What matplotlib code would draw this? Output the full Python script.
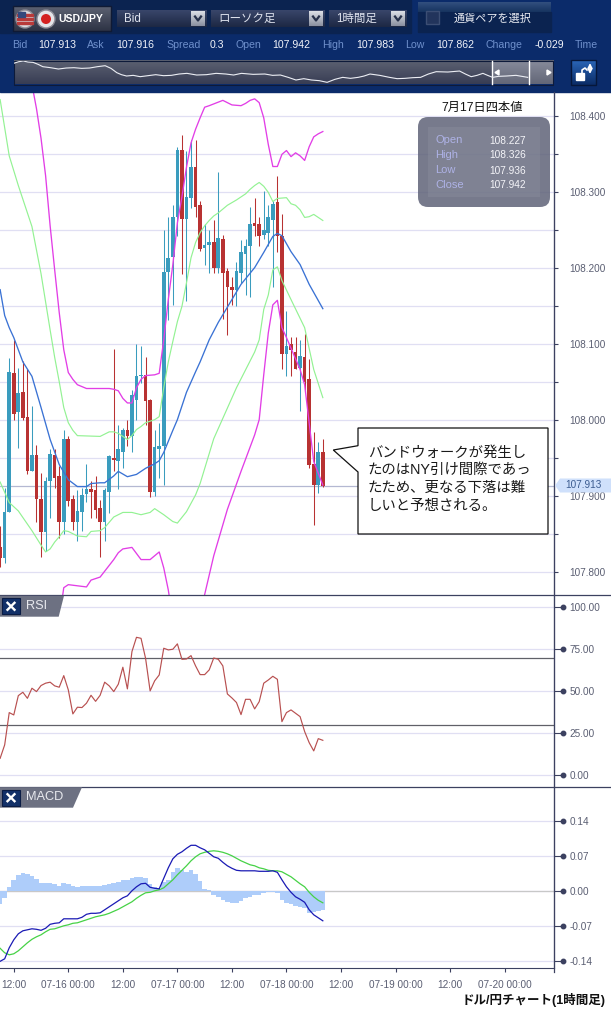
import numpy as np
import matplotlib
matplotlib.use('Agg')
import matplotlib.pyplot as plt
from matplotlib.patches import Rectangle, Polygon, FancyBboxPatch, Circle

plt.rcParams['font.family'] = ['Liberation Sans', 'Noto Sans CJK JP']

W, H = 611, 1010

# hourly candles, first one is 07-15 09:00
opens = [107.833, 107.818, 107.879, 108.061, 108.010, 108.036, 108.004, 107.933, 107.953, 107.896, 107.852, 107.919,
         107.954, 107.926, 107.866, 107.975, 107.896, 107.866, 107.878, 107.902, 107.909, 107.907, 107.884, 107.865,
         107.905, 107.950, 107.946, 107.958, 107.986, 107.978, 108.026, 108.057, 108.059, 108.026, 107.905, 107.962,
         107.965, 108.194, 108.214, 108.266, 108.355, 108.264, 108.292, 108.333, 108.282, 108.226, 108.230, 108.234,
         108.199, 108.238, 108.195, 108.174, 108.170, 108.193, 108.218, 108.228, 108.259, 108.257, 108.243, 108.246,
         108.263, 108.286, 108.242, 108.087, 108.099, 108.089, 108.068, 108.083, 108.053, 107.942, 107.914, 107.958]
highs = [107.860, 107.910, 108.081, 108.105, 108.068, 108.077, 108.066, 108.018, 107.967, 107.930, 107.925, 107.961,
         107.961, 107.939, 107.987, 107.978, 107.901, 107.908, 107.910, 107.942, 107.919, 107.926, 107.895, 107.910,
         107.953, 108.093, 107.993, 107.989, 107.999, 108.039, 108.099, 108.097, 108.083, 108.027, 107.986, 107.996,
         108.250, 108.267, 108.282, 108.358, 108.375, 108.353, 108.368, 108.368, 108.288, 108.257, 108.250, 108.263,
         108.326, 108.243, 108.199, 108.188, 108.207, 108.236, 108.238, 108.280, 108.291, 108.267, 108.301, 108.282,
         108.287, 108.320, 108.271, 108.143, 108.109, 108.109, 108.105, 108.113, 108.080, 107.984, 107.971, 107.974]
lows = [107.806, 107.811, 107.879, 108.000, 107.963, 108.000, 107.928, 107.932, 107.866, 107.820, 107.827, 107.871,
        107.910, 107.844, 107.849, 107.886, 107.855, 107.840, 107.853, 107.892, 107.871, 107.871, 107.820, 107.841,
        107.877, 107.932, 107.909, 107.936, 107.965, 107.958, 108.000, 108.048, 107.993, 107.898, 107.900, 107.923,
        107.914, 108.131, 108.151, 108.241, 108.192, 108.156, 108.279, 108.266, 108.222, 108.204, 108.193, 108.193,
        108.193, 108.132, 108.112, 108.151, 108.150, 108.180, 108.164, 108.162, 108.242, 108.228, 108.238, 108.228,
        108.174, 108.220, 108.066, 108.058, 108.058, 108.066, 108.012, 108.037, 107.937, 107.862, 107.904, 107.912]
closes = [107.818, 107.879, 108.063, 108.008, 108.035, 108.002, 107.933, 107.953, 107.896, 107.852, 107.919, 107.955,
          107.923, 107.865, 107.974, 107.893, 107.866, 107.880, 107.901, 107.909, 107.905, 107.881, 107.865, 107.908,
          107.952, 107.947, 107.961, 107.987, 107.979, 108.033, 108.057, 108.059, 108.025, 107.905, 107.964, 107.965,
          108.194, 108.213, 108.267, 108.355, 108.264, 108.293, 108.333, 108.280, 108.224, 108.230, 108.234, 108.200,
          108.239, 108.193, 108.174, 108.170, 108.196, 108.221, 108.229, 108.258, 108.255, 108.241, 108.249, 108.266,
          108.284, 108.242, 108.087, 108.097, 108.091, 108.067, 108.084, 108.050, 107.941, 107.914, 107.958, 107.913]

# bollinger bands, read at the candles where the line bends
up2_i = [7, 8, 9, 10, 11, 12, 13, 14, 15, 16, 17, 19, 24, 25, 26, 27, 28, 29, 30, 31, 32, 34, 35, 36, 37, 38, 39, 40,
         41, 42, 43, 44, 45, 46, 49, 50, 51, 53, 54, 55, 56, 57, 58, 59, 60, 61, 62, 63, 64, 65, 66, 67, 68, 69, 70, 71]
up2_p = [108.441, 108.409, 108.370, 108.321, 108.255, 108.197, 108.141, 108.092, 108.062, 108.053, 108.046, 108.041,
         108.041, 108.040, 108.038, 108.028, 108.022, 108.022, 108.042, 108.053, 108.058, 108.059, 108.061, 108.105,
         108.158, 108.204, 108.259, 108.293, 108.332, 108.364, 108.382, 108.397, 108.411, 108.413, 108.420, 108.417,
         108.414, 108.413, 108.416, 108.420, 108.422, 108.417, 108.397, 108.362, 108.333, 108.333, 108.349, 108.354,
         108.346, 108.351, 108.347, 108.341, 108.359, 108.372, 108.376, 108.379]
up1_i = [0, 2, 4, 7, 9, 11, 12, 13, 14, 15, 16, 17, 22, 24, 25, 26, 27, 28, 29, 30, 31, 32, 34, 35, 36, 37, 38, 39, 40,
         41, 42, 43, 44, 45, 46, 47, 48, 50, 52, 54, 55, 56, 57, 58, 59, 60, 61, 63, 64, 65, 66, 67, 68, 69, 71]
up1_p = [108.421, 108.347, 108.308, 108.254, 108.192, 108.118, 108.082, 108.050, 108.016, 107.996, 107.986, 107.979,
         107.978, 107.984, 107.984, 107.982, 107.978, 107.974, 107.979, 107.987, 107.991, 107.996, 108.000, 108.004,
         108.042, 108.076, 108.103, 108.129, 108.149, 108.180, 108.213, 108.233, 108.246, 108.255, 108.262, 108.268,
         108.272, 108.282, 108.289, 108.297, 108.303, 108.308, 108.312, 108.307, 108.299, 108.287, 108.291, 108.292,
         108.284, 108.282, 108.276, 108.266, 108.267, 108.270, 108.262]
mid_i = [0, 1, 2, 3, 5, 7, 9, 11, 13, 15, 17, 19, 20, 22, 23, 25, 26, 28, 30, 31, 32, 34, 35, 36, 38, 39, 41, 43, 44,
         46, 48, 49, 52, 53, 56, 58, 60, 61, 62, 64, 66, 68, 71]
mid_p = [108.171, 108.137, 108.121, 108.108, 108.076, 108.057, 108.016, 107.974, 107.941, 107.921, 107.912, 107.912,
         107.916, 107.917, 107.917, 107.926, 107.932, 107.925, 107.928, 107.932, 107.936, 107.942, 107.946, 107.957,
         107.986, 108.000, 108.036, 108.063, 108.076, 108.105, 108.128, 108.138, 108.168, 108.178, 108.200, 108.220,
         108.241, 108.245, 108.242, 108.221, 108.204, 108.178, 108.146]
lo1_i = [0, 2, 4, 7, 9, 10, 11, 12, 13, 14, 15, 17, 19, 20, 22, 23, 25, 27, 29, 31, 33, 34, 35, 36, 38, 39, 41, 43, 44,
         47, 52, 56, 57, 58, 59, 60, 61, 62, 64, 67, 69, 71]
lo1_p = [107.918, 107.891, 107.880, 107.854, 107.835, 107.826, 107.830, 107.839, 107.846, 107.854, 107.853, 107.847,
         107.846, 107.853, 107.854, 107.858, 107.872, 107.878, 107.878, 107.875, 107.878, 107.883, 107.879, 107.875,
         107.866, 107.864, 107.879, 107.901, 107.916, 107.975, 108.042, 108.089, 108.105, 108.145, 108.164, 108.197,
         108.201, 108.183, 108.158, 108.121, 108.066, 108.029]
lo2_i = [13, 14, 15, 19, 20, 22, 25, 26, 27, 29, 31, 33, 35, 36, 37, 38, 39, 40, 41, 42, 43, 44, 45, 47, 50, 53, 56,
         57, 58, 59, 60, 61, 62, 63, 66, 67, 69, 71]
lo2_p = [107.737, 107.779, 107.783, 107.780, 107.789, 107.793, 107.816, 107.825, 107.830, 107.832, 107.816, 107.816,
         107.826, 107.805, 107.776, 107.737, 107.697, 107.684, 107.691, 107.704, 107.724, 107.747, 107.770, 107.821,
         107.882, 107.932, 107.980, 108.000, 108.059, 108.114, 108.151, 108.157, 108.121, 108.108, 108.066, 108.046,
         107.945, 107.914]

rsi = [10.1, 18.1, 37.3, 35.9, 47.4, 49.4, 45.8, 51.8, 49.8, 53.4, 54.8, 55.4, 53.2, 52.4, 59.3, 50.8, 36.5, 40.5,
       40.3, 42.9, 47.6, 44.0, 47.6, 55.4, 53.2, 49.8, 54.2, 64.3, 51.4, 73.6, 82.1, 81.5, 69.6, 50.2, 56.2, 59.7,
       75.6, 74.6, 75.0, 78.2, 69.0, 69.2, 71.2, 65.1, 59.9, 59.9, 62.7, 69.8, 69.0, 65.1, 48.4, 46.0, 43.3, 36.1,
       45.2, 45.2, 39.5, 43.8, 54.8, 56.7, 58.9, 57.1, 31.9, 37.3, 38.9, 36.9, 34.9, 26.0, 19.4, 14.5, 21.8, 20.8]
macd = [-.140, -.135, -.113, -.097, -.085, -.079, -.077, -.075, -.076, -.078, -.074, -.066, -.064, -.063, -.055, -.055,
        -.055, -.055, -.052, -.046, -.044, -.044, -.043, -.037, -.031, -.025, -.019, -.013, -.009, .001, .009, .015,
        .016, .008, .006, .005, .026, .047, .065, .074, .079, .086, .092, .092, .087, .083, .076, .069, .066, .058,
        .051, .046, .042, .041, .041, .041, .041, .040, .040, .040, .041, .038, .023, .009, -.002, -.011, -.016, -.022,
        -.037, -.047, -.053, -.059]
signal = [-.114, -.123, -.127, -.125, -.119, -.111, -.103, -.096, -.091, -.087, -.081, -.076, -.075, -.072, -.069, -.067,
          -.064, -.063, -.060, -.057, -.054, -.051, -.049, -.047, -.044, -.040, -.036, -.031, -.026, -.021, -.014, -.008,
          -.003, -.002, .001, .003, .007, .015, .023, .033, .042, .051, .061, .069, .075, .078, .080, .081, .080, .078,
          .075, .071, .066, .061, .057, .053, .051, .047, .045, .042, .041, .041, .039, .034, .029, .022, .015, .009,
          -.002, -.011, -.018, -.023]
hist = [-.025, -.013, .009, .023, .033, .037, .034, .031, .025, .017, .016, .016, .015, .010, .017, .014, .011, .009,
        .010, .010, .011, .010, .010, .013, .015, .016, .019, .022, .023, .027, .028, .029, .026, .014, .009, .005,
        .019, .023, .038, .047, .043, .039, .043, .034, .021, .005, .002, -.007, -.012, -.017, -.021, -.023, -.023,
        -.019, -.014, -.011, -.008, -.007, -.004, -.002, -.001, -.004, -.018, -.023, -.026, -.030, -.031, -.033,
        -.043, -.041, -.039, -.037]

time_ticks = [-12, 0, 12, 24, 36, 48, 60, 72, 84, 96]
time_labels = ['12:00', '07-16 00:00', '12:00', '07-17 00:00', '12:00', '07-18 00:00', '12:00', '07-19 00:00', '12:00',
               '07-20 00:00']
price_ticks = [107.8, 107.9, 108.0, 108.1, 108.2, 108.3, 108.4]
rsi_ticks = [0, 25, 50, 75, 100]
macd_ticks = [-0.14, -0.07, 0.0, 0.07, 0.14]
last_price = 107.913

# overview strip at the top, unscaled levels
nav_pos = [35, 48, 60, 72, 85, 98, 110, 130, 150, 170, 190, 210, 230, 250, 270, 285, 300, 312, 325, 342, 360, 380, 400,
           420, 440, 460, 480, 505, 530, 555, 580, 600, 620, 650, 680, 700, 720, 740, 760, 780, 800, 820, 840, 860,
           880, 900, 920, 935, 950, 975, 1000, 1020, 1040, 1060, 1080, 1100, 1120, 1150, 1180, 1195, 1210, 1225, 1240,
           1252, 1265, 1280, 1300, 1325, 1355]
nav_level = [190, 185, 183, 186, 187, 193, 200, 203, 207, 204, 203, 205, 204, 200, 197, 205, 218, 224, 228, 226, 230,
             227, 224, 227, 226, 222, 220, 225, 224, 220, 222, 225, 220, 223, 222, 226, 225, 232, 240, 236, 240, 242,
             247, 238, 232, 235, 232, 228, 222, 226, 232, 236, 235, 233, 232, 222, 215, 216, 213, 222, 230, 226, 220,
             226, 232, 229, 228, 226, 232]

BLUE = '#3a9cbe'
RED = '#b83232'
AXIS = '#3c4160'
TXT = '#5a5e72'
GRID = '#e0dff3'


def px_axes(fig, x0, y0, x1, y1):
    # axes from pixel box, y measured from the top
    return fig.add_axes([x0 / W, 1 - y1 / H, (x1 - x0) / W, (y1 - y0) / H])


def style_panel(ax, ylim, ticks, labels):
    ax.set_xlim(-15.03, 106.93)
    ax.set_ylim(*ylim)
    for s in ['top', 'left', 'bottom']:
        ax.spines[s].set_visible(False)
    ax.spines['right'].set_color(AXIS)
    ax.yaxis.tick_right()
    ax.set_yticks(ticks)
    ax.set_yticklabels(labels)
    ax.set_xticks([])
    ax.grid(axis='y', color=GRID, lw=0.9)
    ax.set_axisbelow(True)


def dots(ax, ticks):
    # round end on the indicator ticks
    ax.plot([1.0148] * len(ticks), ticks, 'o', ms=3.2, color=AXIS, clip_on=False, zorder=5,
            transform=ax.get_yaxis_transform())


def grad(ax, x0, y0, x1, y1, c1, c2):
    rgb = np.linspace(matplotlib.colors.to_rgb(c1), matplotlib.colors.to_rgb(c2), 32).reshape(32, 1, 3)
    ax.imshow(rgb, extent=[x0, x1, y1, y0], aspect='auto', zorder=1)


fig = plt.figure(figsize=(W / 100, H / 100), dpi=100, facecolor='white')
hours = np.arange(len(opens)) - 15

# --- price panel
ax = px_axes(fig, 0, 92, 554.3, 595.3)
price_lim = (107.769, 108.431)
style_panel(ax, price_lim, price_ticks, ['%.3f' % v for v in price_ticks])
ax.set_yticks(np.arange(107.8, 108.41, 0.05), minor=True)
ax.grid(axis='y', which='minor', color=GRID, lw=0.9)
ax.tick_params(axis='y', which='major', length=3, width=0.8, color=AXIS, labelsize=7.2, labelcolor=TXT, pad=8)
ax.tick_params(axis='y', which='minor', length=3, width=0.8, color=AXIS)
ax.axhline(last_price, color='#b4b8d2', lw=0.9, zorder=1)

for h, o, hi, lo, c in zip(hours, opens, highs, lows, closes):
    col = BLUE if c >= o else RED
    ax.vlines(h, lo, hi, color=col, lw=0.75, zorder=2)
    ax.bar(h, abs(c - o), bottom=min(o, c), width=0.8, color=col, lw=0, zorder=2)

ax.plot(np.array(up1_i) - 15, up1_p, color='#93f293', lw=0.85, zorder=3)
ax.plot(np.array(lo1_i) - 15, lo1_p, color='#93f293', lw=0.85, zorder=3)
ax.plot(np.array(mid_i) - 15, mid_p, color='#3a72d4', lw=0.95, zorder=3)
ax.plot(np.array(up2_i) - 15, up2_p, color='#e23ee6', lw=0.95, zorder=4)
ax.plot(np.array(lo2_i) - 15, lo2_p, color='#e23ee6', lw=0.95, zorder=4)

# --- RSI panel
ax2 = px_axes(fig, 0, 595.3, 554.3, 786.7)
style_panel(ax2, (-6.8, 107.1), rsi_ticks, ['%.2f' % v for v in rsi_ticks])
ax2.tick_params(axis='y', length=5.5, width=0.8, color=AXIS, labelsize=7.2, labelcolor=TXT, pad=5.5)
ax2.axhline(70, color='#606068', lw=0.9, zorder=1)
ax2.axhline(30, color='#606068', lw=0.9, zorder=1)
ax2.plot(hours, rsi, color='#b85050', lw=0.85, zorder=3)
dots(ax2, rsi_ticks)

# --- MACD panel
ax3 = px_axes(fig, 0, 786.7, 554.3, 968)
style_panel(ax3, (-0.1534, 0.2092), macd_ticks, ['%.2f' % v for v in macd_ticks])
ax3.tick_params(axis='y', length=5.5, width=0.8, color=AXIS, labelsize=7.2, labelcolor=TXT, pad=5.5)
ax3.axhline(0, color='#c8c8c8', lw=0.9, zorder=1)
ax3.bar(hours, hist, width=1.0, color='#aecdfa', lw=0, zorder=2)
ax3.plot(hours, signal, color='#46d246', lw=0.9, zorder=3)
ax3.plot(hours, macd, color='#1a1ab4', lw=0.9, zorder=4)
dots(ax3, macd_ticks)
ax3.spines['bottom'].set_visible(True)
ax3.spines['bottom'].set_color(AXIS)
ax3.set_xticks(time_ticks)
ax3.set_xticklabels(time_labels)
ax3.tick_params(axis='x', length=3, width=0.8, color=AXIS, labelsize=7.2, labelcolor=TXT, pad=5.5)

# --- page furniture drawn in pixel coordinates on top
top = px_axes(fig, 0, 0, W, H)
top.set_xlim(0, W)
top.set_ylim(H, 0)
top.set_autoscale_on(False)
top.axis('off')
top.patch.set_alpha(0)

top.add_patch(Rectangle((0, 0), W, 92, color='#0b2b6a', zorder=0))
top.add_patch(Rectangle((0, 0), 411, 33, color='#0b2350', zorder=0))
grad(top, 418, 2, 551, 12, '#33507f', '#16335f')
top.add_patch(Rectangle((418, 12), 133, 20, color='#0b2350', zorder=0))

# currency button
grad(top, 13, 6, 111, 31, '#5c6272', '#2e3345')
top.add_patch(Rectangle((13, 6), 98, 25, fill=False, ec='#101a34', lw=1, zorder=2))
top.add_patch(Circle((25, 19), 9, fc='#d9d9dd', ec='#8a8a95', lw=1, zorder=3))
for yy in [14, 18, 22]:
    top.add_patch(Rectangle((17, yy), 16, 2, color='#b83a3a', zorder=4))
top.add_patch(Rectangle((18, 12), 7, 5, color='#33487c', zorder=4))
top.add_patch(Circle((46, 19), 9, fc='#e4e4e8', ec='#8a8a95', lw=1, zorder=3))
top.add_patch(Circle((46, 19), 5, fc='#d42020', lw=0, zorder=4))
top.text(58, 19, 'USD/JPY', color='white', fontsize=7.6, fontweight='bold', va='center', zorder=5)

# dropdowns
for x0, x1, lab in [(117, 207, 'Bid'), (211, 325, 'ローソク足'), (329, 407, '1時間足')]:
    grad(top, x0, 10, x1, 27, '#39466a', '#1d2844')
    grad(top, x1 - 16, 11, x1 - 2, 26, '#dcdfe6', '#8a90a0')
    top.plot([x1 - 12, x1 - 9, x1 - 6], [16.5, 20.5, 16.5], color='#26304a', lw=1.6, zorder=3)
    top.text(x0 + 7, 19, lab, color='#dfe3ee', fontsize=8.3, va='center', zorder=3)

top.add_patch(Rectangle((426, 11), 13, 13, fc='#22345c', ec='#3c4e74', lw=1, zorder=2))
top.text(454, 18.5, '通貨ペアを選択', color='#e8ebf2', fontsize=8, va='center', zorder=3)

# quote row
quote_row = [(12, 'Bid', 0), (38, '107.913', 1), (87, 'Ask', 0), (116, '107.916', 1), (166, 'Spread', 0),
             (210, '0.3', 1), (236, 'Open', 0), (272, '107.942', 1), (322, 'High', 0), (356, '107.983', 1),
             (405, 'Low', 0), (436, '107.862', 1), (485, 'Change', 0), (535, '-0.029', 1), (575, 'Time', 0)]
for x, s, is_val in quote_row:
    top.text(x, 45.5, s, color='#f2f4fa' if is_val else '#6f90cc', fontsize=7.6, va='center', zorder=3)

# overview strip
grad(top, 13.6, 60.5, 553, 84.5, '#5c6172', '#383d54')
grad(top, 492, 61, 553, 84, '#868a9a', '#636778')
top.add_patch(Rectangle((13.6, 60.5), 539.4, 24, fill=False, ec='#0d1a3a', lw=0.8, zorder=2))
top.plot([492, 492], [61, 84], color='white', lw=1, zorder=4)
top.plot([528.5, 528.5], [61, 84], color='white', lw=1, zorder=4)
top.add_patch(Polygon([(495, 72.5), (499, 70), (499, 75)], color='white', zorder=4))
top.add_patch(Polygon([(551, 72.5), (547, 70), (547, 75)], color='white', zorder=4))
nav = px_axes(fig, 13.6, 60.7, 553, 84)
nav.set_xlim(35, 1420)
nav.set_ylim(252, 182)
nav.axis('off')
nav.patch.set_alpha(0)
nav.plot(nav_pos, nav_level, color='#eceef4', lw=0.8)

# lock button
grad(top, 571, 60, 596, 85, '#2a66b8', '#0b2c66')
top.add_patch(Rectangle((571, 60), 25, 25, fill=False, ec='#06173a', lw=1, zorder=2))
top.add_patch(Rectangle((576, 73), 8, 6.5, color='white', zorder=3))
top.plot([582, 582, 585, 587], [73, 70, 68, 70], color='white', lw=1.2, zorder=3)
top.annotate('', xy=(590, 63), xytext=(590, 74), zorder=3,
             arrowprops=dict(arrowstyle='<->', color='white', lw=1.3, shrinkA=0, shrinkB=0, mutation_scale=6))

# axis frame lines
top.plot([0, W], [595.3, 595.3], color=AXIS, lw=0.9, zorder=6)
top.plot([0, W], [786.7, 786.7], color=AXIS, lw=0.9, zorder=6)
top.plot([554.3, 554.3], [92, 972], color=AXIS, lw=0.9, zorder=6)

# last price flag
top.add_patch(Polygon([(555, 485.5), (560, 478.5), (W, 478.5), (W, 492.5), (560, 492.5)], fc='#cfe0fb', lw=0, zorder=6))
top.text(565, 485.5, '%.3f' % last_price, color='#3c5c90', fontsize=7.2, va='center', zorder=7)

# panel tabs
for y0, y1, x1, x2, lab in [(595.8, 616.7, 64, 58.7, 'RSI'), (787.2, 807.7, 82, 73, 'MACD')]:
    top.add_patch(Polygon([(0, y0), (x1, y0), (x2, y1), (0, y1)], fc='#6d7182', lw=0, zorder=7))
    btn_y = y0 + 2.5
    top.add_patch(Rectangle((2, btn_y), 18, 16, fc='#123068', ec='#0a1c44', lw=0.8, zorder=8))
    top.plot([7.5, 14.5], [btn_y + 4.5, btn_y + 11.5], color='white', lw=1.7, zorder=9)
    top.plot([7.5, 14.5], [btn_y + 11.5, btn_y + 4.5], color='white', lw=1.7, zorder=9)
    top.text(26, (y0 + y1) / 2, lab, color='#e8e9ee', fontsize=9.2, va='center', zorder=9)

# four values box
top.text(482.5, 107.7, '7月17日四本値', color='#111111', fontsize=8.8, ha='center', va='center', zorder=7)
top.add_patch(FancyBboxPatch((418, 117), 132, 90, boxstyle='round,pad=0,rounding_size=10',
                             fc='#5f6378', alpha=0.85, lw=0, zorder=7))
top.add_patch(Rectangle((428, 127), 112, 70, fc='#8f93a2', alpha=0.35, lw=0, zorder=8))
four_names = ['Open', 'High', 'Low', 'Close']
four_vals = ['108.227', '108.326', '107.936', '107.942']
for k in range(4):
    yy = 140 + 15 * k
    top.text(435, yy, four_names[k], color='#aeb2e6', fontsize=8, va='center', zorder=9)
    top.text(489, yy + 0.5, four_vals[k], color='#f4f4f8', fontsize=7.3, va='center', zorder=9)

# comment balloon
top.add_patch(Polygon([(358, 428), (548, 428), (548, 534), (358, 534), (358, 472), (333.3, 450), (358, 445.7)],
                      fc='white', ec='#111111', lw=0.9, joinstyle='miter', zorder=7))
note = ['バンドウォークが発生し', 'たのはNY引け間際であっ', 'たため、更なる下落は難', 'しいと予想される。']
for k, s in enumerate(note):
    top.text(368, 452.5 + 17.8 * k, s, color='#1a1a1a', fontsize=10.4, va='center', zorder=8)

top.text(606, 1000, 'ドル/円チャート(1時間足)', color='#111111', fontsize=9, fontweight='bold', ha='right', va='center', zorder=8)

fig.savefig('out.png', dpi=100)
